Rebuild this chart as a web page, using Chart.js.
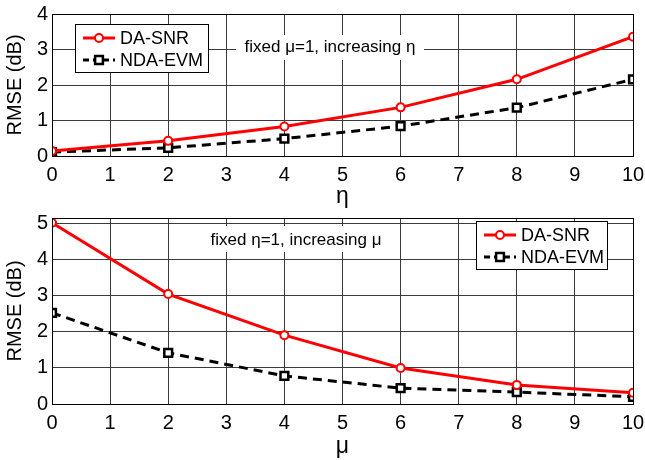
<!DOCTYPE html>
<html>
<head>
<meta charset="utf-8">
<script src="https://cdn.jsdelivr.net/npm/chart.js@4.4.1/dist/chart.umd.min.js"></script>
<style>
  body { margin: 0; background: #fff; width: 645px; height: 460px; position: relative; overflow: hidden; }
  canvas { position: absolute; left: 0; }
  #top { top: 0; }
  #bottom { top: 210px; }
</style>
</head>
<body>
<canvas id="top" width="645" height="212"></canvas>
<canvas id="bottom" width="645" height="250"></canvas>
<script>
// x positions of the markers (eta / mu)
var xValues = [0, 2, 4, 6, 8, 10];
// top plot: fixed mu=1, increasing eta
var etaDaSnr = [0.14, 0.43, 0.83, 1.37, 2.16, 3.36];
var etaNdaEvm = [0.11, 0.23, 0.49, 0.84, 1.36, 2.16];
// bottom plot: fixed eta=1, increasing mu
var muDaSnr = [5.03, 3.05, 1.91, 1.00, 0.53, 0.31];
var muNdaEvm = [2.53, 1.42, 0.78, 0.44, 0.33, 0.20];
var seriesLabels = ['DA-SNR', 'NDA-EVM'];

var FONT = "'Liberation Sans', Arial, sans-serif";

function toPoints(ys) {
    return xValues.map(function (x, i) { return { x: x, y: ys[i] }; });
}

function makeDatasets(red, black) {
    return [
        {
            label: seriesLabels[0],
            data: toPoints(red),
            borderColor: '#ff0000',
            backgroundColor: '#ffffff',
            borderWidth: 3,
            pointStyle: 'circle',
            pointRadius: 4,
            pointBorderWidth: 2,
            pointBackgroundColor: '#ffffff',
            pointBorderColor: '#ff0000'
        },
        {
            label: seriesLabels[1],
            data: toPoints(black),
            borderColor: '#000000',
            backgroundColor: '#ffffff',
            borderWidth: 3,
            borderDash: [9, 6],
            pointStyle: 'rect',
            pointRadius: 5.5,
            pointBorderWidth: 2.5,
            pointBackgroundColor: '#ffffff',
            pointBorderColor: '#000000'
        }
    ];
}

// box around the axes (matlab "box on")
var framePlugin = {
    id: 'frame',
    afterDatasetsDraw: function (chart) {
        var a = chart.chartArea, c = chart.ctx;
        c.save();
        c.strokeStyle = '#000';
        c.lineWidth = 1;
        c.strokeRect(Math.round(a.left) + 0.5, Math.round(a.top) + 0.5,
            Math.round(a.right - a.left), Math.round(a.bottom - a.top));
        c.restore();
    }
};

// text note with white background
var notePlugin = {
    id: 'note',
    beforeDatasetsDraw: function (chart, args, opts) {
        var c = chart.ctx;
        c.save();
        c.fillStyle = '#fff';
        c.fillRect(opts.box[0], opts.box[1], opts.box[2], opts.box[3]);
        c.fillStyle = '#000';
        c.font = '17px ' + FONT;
        c.textAlign = 'center';
        c.textBaseline = 'middle';
        c.fillText(opts.text, opts.x, opts.y);
        c.restore();
    }
};

// matlab-like legend box
var boxLegend = {
    id: 'boxLegend',
    afterDraw: function (chart, args, opts) {
        var c = chart.ctx;
        var b = opts.box;
        c.save();
        c.fillStyle = '#fff';
        c.fillRect(b[0], b[1], b[2], b[3]);
        c.strokeStyle = '#000';
        c.lineWidth = 1;
        c.strokeRect(b[0] + 0.5, b[1] + 0.5, b[2], b[3]);
        chart.data.datasets.forEach(function (ds, i) {
            var y = b[1] + 14 + i * 22;
            var x0 = b[0] + 8, x1 = b[0] + 40;
            c.strokeStyle = ds.borderColor;
            c.lineWidth = ds.borderWidth;
            c.setLineDash(ds.borderDash ? [6, 4] : []);
            c.beginPath();
            c.moveTo(x0, y);
            c.lineTo(x1, y);
            c.stroke();
            c.setLineDash([]);
            c.fillStyle = ds.pointBackgroundColor;
            c.strokeStyle = ds.pointBorderColor;
            c.lineWidth = ds.pointBorderWidth;
            Chart.helpers.drawPoint(c, { pointStyle: ds.pointStyle, radius: ds.pointRadius, rotation: 0, borderWidth: ds.pointBorderWidth }, (x0 + x1) / 2, y);
            c.fillStyle = '#000';
            c.font = '18px ' + FONT;
            c.textAlign = 'left';
            c.textBaseline = 'middle';
            c.fillText(ds.label, b[0] + 45, y + 1);
        });
        c.restore();
    }
};

function makeOptions(yMax, xTitle, xAxisHeight, titlePad, note, legendBox) {
    return {
        responsive: false,
        animation: false,
        layout: { padding: { top: note.top, right: 12, left: 0, bottom: 0 } },
        plugins: {
            legend: { display: false },
            tooltip: { enabled: false },
            note: note,
            boxLegend: { box: legendBox }
        },
        scales: {
            x: {
                type: 'linear',
                min: 0,
                max: 10,
                afterFit: function (s) {
                    s.height = xAxisHeight;
                    s.paddingLeft = 0;
                    s.paddingRight = 0;
                },
                ticks: { stepSize: 1, color: '#000', padding: 7, font: { family: FONT, size: 20 } },
                grid: { color: '#3a3a3a', lineWidth: 1, drawTicks: false },
                border: { color: '#000', width: 1 },
                title: { display: true, text: xTitle, color: '#000', padding: { top: 0, bottom: titlePad }, font: { family: FONT, size: 23 } }
            },
            y: {
                min: 0,
                max: yMax,
                afterFit: function (s) {
                    s.width = 52;
                    s.paddingTop = 0;
                    s.paddingBottom = 0;
                },
                afterBuildTicks: function (s) {
                    var t = [];
                    for (var v = 0; v <= yMax; v++) t.push({ value: v });
                    s.ticks = t;
                },
                ticks: { stepSize: 1, color: '#000', padding: 4, font: { family: FONT, size: 20 } },
                grid: { color: '#3a3a3a', lineWidth: 1, drawTicks: false },
                border: { color: '#000', width: 1 },
                title: { display: true, text: 'RMSE (dB)', color: '#000', padding: { top: 3 }, font: { family: FONT, size: 20 } }
            }
        }
    };
}

new Chart(document.getElementById('top').getContext('2d'), {
    type: 'line',
    data: { datasets: makeDatasets(etaDaSnr, etaNdaEvm) },
    options: makeOptions(4, '\u03b7', 56, 2,
        { top: 14, text: 'fixed \u03bc=1, increasing \u03b7', x: 330, y: 47, box: [236, 35, 188, 25] },
        [75, 24, 133, 48]),
    plugins: [framePlugin, notePlugin, boxLegend]
});

new Chart(document.getElementById('bottom').getContext('2d'), {
    type: 'line',
    data: { datasets: makeDatasets(muDaSnr, muNdaEvm) },
    options: makeOptions(5.16, '\u03bc', 56, 0,
        { top: 0, text: 'fixed \u03b7=1, increasing \u03bc', x: 296, y: 30, box: [200, 16, 192, 26] },
        [476, 11, 131, 48]),
    plugins: [framePlugin, notePlugin, boxLegend]
});
</script>
</body>
</html>
